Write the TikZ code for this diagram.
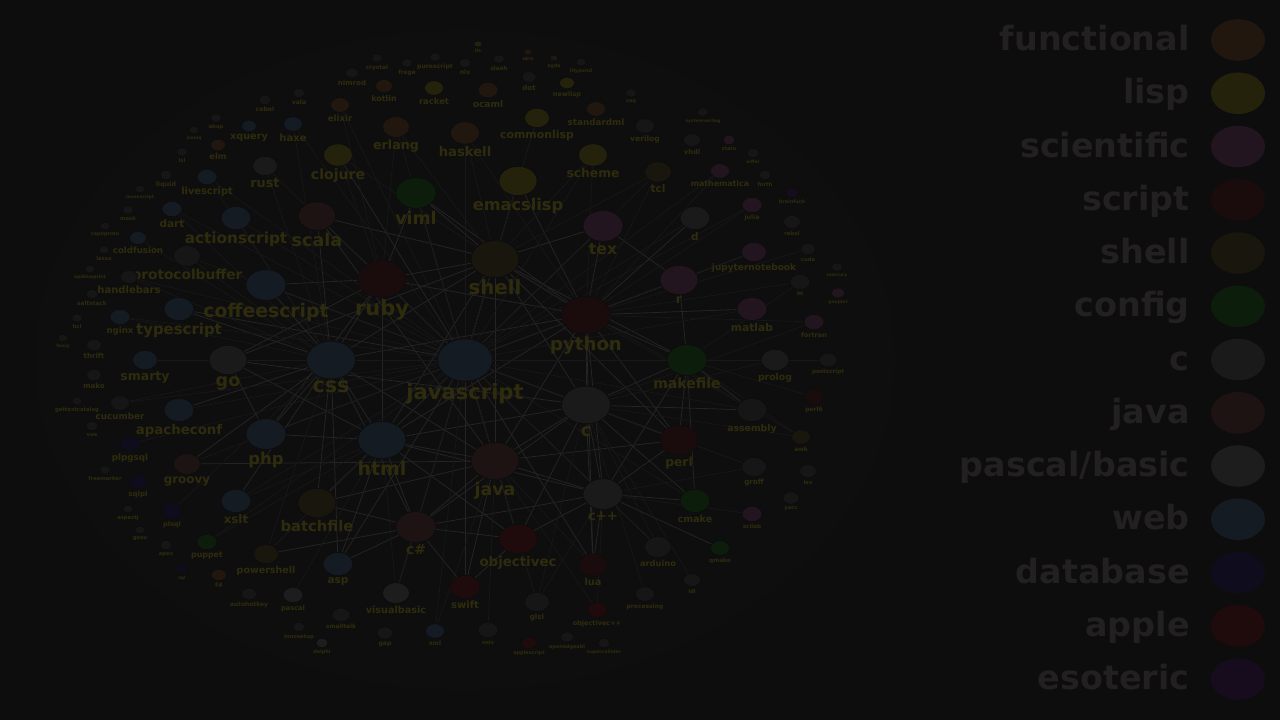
\documentclass[tikz,border=0pt]{standalone}
\usepackage{fontspec}
\setmainfont{DejaVu Sans}
\usetikzlibrary{shapes.geometric}
\definecolor{bgc}{HTML}{0E0D0E}
\definecolor{haloc}{HTML}{0F0E0F}
\definecolor{edgec}{HTML}{252425}
\definecolor{edgefc}{HTML}{191819}
\definecolor{lblc}{HTML}{2E2C0C}
\definecolor{legc}{HTML}{222021}
\definecolor{funcc}{HTML}{21170F}
\definecolor{lispc}{HTML}{25220C}
\definecolor{scic}{HTML}{22151F}
\definecolor{scriptc}{HTML}{1A0C0C}
\definecolor{shellc}{HTML}{19160D}
\definecolor{confc}{HTML}{0C1D0C}
\definecolor{cc}{HTML}{1B1A1B}
\definecolor{javac}{HTML}{1D1313}
\definecolor{pasc}{HTML}{1C1D1C}
\definecolor{webc}{HTML}{141B22}
\definecolor{dbc}{HTML}{0E0C1D}
\definecolor{applec}{HTML}{1F0B0C}
\definecolor{esoc}{HTML}{170C1D}
\definecolor{othc}{HTML}{151615}
\pgfdeclarelayer{bglayer}
\pgfdeclarelayer{edgelayer}
\pgfsetlayers{bglayer,edgelayer,main}

\begin{document}
\begin{tikzpicture}[
  x=0.02cm, y=-0.02cm,
  lang/.style={ellipse, draw=bgc, line width=0.4pt, inner sep=0pt,
               minimum width=#1*0.02cm, minimum height=#1*0.0154cm},
  lbl/.style ={text=lblc, inner sep=1pt, font=\bfseries\fontsize{#1}{#1}\selectfont},
  funcn/.style={fill=funcc},   lispn/.style={fill=lispc},  scin/.style={fill=scic},
  scriptn/.style={fill=scriptc}, shelln/.style={fill=shellc}, confn/.style={fill=confc},
  cn/.style={fill=cc},         javan/.style={fill=javac},  pasn/.style={fill=pasc},
  webn/.style={fill=webc},     dbn/.style={fill=dbc},      applen/.style={fill=applec},
  eson/.style={fill=esoc},     othn/.style={fill=othc},
  edge/.style ={edgec, line width=0.45pt},
  edgef/.style={edgefc, line width=0.35pt},
  legtxt/.style={text=legc, anchor=base east, inner sep=0pt,
                 font=\bfseries\fontsize{19}{19}\selectfont},
  legdot/.style={lang=54, draw=none}
]
\useasboundingbox (0,0) rectangle (1280,720);
\begin{pgfonlayer}{bglayer}
  \fill[bgc] (0,0) rectangle (1280,720);
  \fill[haloc] (465,360) ellipse [x radius=430, y radius=330];
\end{pgfonlayer}

% =============== hubs ===============
\node[lang=55, webn,    label={[lbl=12]below:javascript}] (js)   at (465,360) {};
\node[lang=49, webn,    label={[lbl=11.8]below:css}]      (css)  at (331,360) {};
\node[lang=48, webn,    label={[lbl=10.8]below:html}]     (html) at (382,440) {};
\node[lang=48, javan,   label={[lbl=9.9]below:java}]      (java) at (495,461) {};
\node[lang=49, cn,      label={[lbl=10]below:c}]          (c)    at (586,405) {};
\node[lang=49, scriptn, label={[lbl=10.3]below:python}]   (py)   at (586,315) {};
\node[lang=48, shelln,  label={[lbl=11.2]below:shell}]    (sh)   at (495,259) {};
\node[lang=48, scriptn, label={[lbl=11.9]below:ruby}]     (rb)   at (382,279) {};

% =============== second ring ===============
\node[lang=40, webn,    label={[lbl=10.7]below:coffeescript}] (coffee) at (266,285) {};
\node[lang=40, confn,   label={[lbl=8]below:makefile}]    (make)  at (687,360) {};
\node[lang=40, cn,      label={[lbl=7.5]below:c++}]       (cpp)   at (603,494) {};
\node[lang=40, javan,   label={[lbl=7.9]below:c\#}]       (cs)    at (416,527) {};
\node[lang=38, applen,  label={[lbl=7.6]below:objectivec}] (objc) at (518,539) {};
\node[lang=40, webn,    label={[lbl=9.3]below:php}]       (php)   at (266,434) {};
\node[lang=38, cn,      label={[lbl=10]below:go}]         (go)    at (228,360) {};
\node[lang=40, scin,    label={[lbl=8.9]below:tex}]       (tex)   at (603,226) {};
\node[lang=38, scin,    label={[lbl=7]below:r}]           (r)     at (679,280) {};
\node[lang=38, lispn,   label={[lbl=9.2]below:emacslisp}] (elisp) at (518,181) {};
\node[lang=40, confn,   label={[lbl=9.9]below:viml}]      (viml)  at (416,193) {};
\node[lang=37, javan,   label={[lbl=10]below:scala}]      (scala) at (317,216) {};
\node[lang=38, shelln,  label={[lbl=8.4]below:batchfile}] (bat)   at (317,503) {};
\node[lang=38, scriptn, label={[lbl=7]below:perl}]        (perl)  at (679,440) {};

% =============== third ring ===============
\node[lang=29, lispn,   label={[lbl=8]below:clojure}]      (clj)     at (338,155) {};
\node[lang=27, funcn,   label={[lbl=7.2]below:erlang}]     (erl)     at (396,127) {};
\node[lang=29, funcn,   label={[lbl=7.5]below:haskell}]    (hs)      at (465,133) {};
\node[lang=25, lispn,   label={[lbl=6.2]below:commonlisp}] (clisp)   at (537,118) {};
\node[lang=29, lispn,   label={[lbl=7]below:scheme}]       (scm)     at (593,155) {};
\node[lang=27, shelln,  label={[lbl=6]below:tcl}]          (tcl)     at (658,172) {};
\node[lang=30, cn,      label={[lbl=6]below:d}]            (d)       at (695,218) {};
\node[lang=25, cn,      label={[lbl=7.3]below:rust}]       (rust)    at (265,166) {};
\node[lang=30, webn,    label={[lbl=8.7]below:actionscript}] (as)    at (236,218) {};
\node[lang=20, webn,    label={[lbl=6]below:dart}]         (dart)    at (172,209) {};
\node[lang=20, webn,    label={[lbl=5.6]below:livescript}] (live)    at (207,177) {};
\node[lang=30, webn,    label={[lbl=8.5]below:typescript}] (ts)      at (179,309) {};
\node[lang=25, webn,    label={[lbl=7.1]below:smarty}]     (smarty)  at (145,360) {};
\node[lang=30, webn,    label={[lbl=7.6]below:apacheconf}] (apache)  at (179,410) {};
\node[lang=27, javan,   label={[lbl=6.8]below:groovy}]     (groovy)  at (187,464) {};
\node[lang=30, webn,    label={[lbl=6.7]below:xslt}]       (xslt)    at (236,501) {};
\node[lang=25, shelln,  label={[lbl=5.4]below:powershell}] (pshell)  at (266,554) {};
\node[lang=30, webn,    label={[lbl=6]below:asp}]          (asp)     at (338,564) {};
\node[lang=27, pasn,    label={[lbl=5.5]below:visualbasic}] (vb)     at (396,593) {};
\node[lang=30, applen,  label={[lbl=5.7]below:swift}]      (swift)   at (465,587) {};
\node[lang=29, scriptn, label={[lbl=5.5]below:lua}]        (lua)     at (593,565) {};
\node[lang=30, confn,   label={[lbl=5.4]below:cmake}]      (cmake)   at (695,501) {};
\node[lang=30, othn,    label={[lbl=5.3]below:assembly}]   (asm)     at (752,410) {};
\node[lang=30, scin,    label={[lbl=6.1]below:matlab}]     (matlab)  at (752,309) {};
\node[lang=25, scin,    label={[lbl=5.1]below:jupyternotebook}] (jupyter) at (754,252) {};
\node[lang=28, cn,      label={[lbl=5.3]below:prolog}]     (prolog)  at (775,360) {};
\node[lang=19, scin,    label={[lbl=4.5]below:mathematica}] (mma)    at (720,171) {};
\node[lang=20, scin,    label={[lbl=3.5]below:julia}]      (julia)   at (752,205) {};
\node[lang=27, othn,    label={[lbl=7.8]below:protocolbuffer}] (proto) at (187,256) {};
\node[lang=25, othn,    label={[lbl=4.1]below:groff}]      (groff)   at (754,467) {};
\node[lang=27, othn,    label={[lbl=4.7]below:arduino}]    (arduino) at (658,547) {};
\node[lang=20, scin,    label={[lbl=3.2]below:scilab}]     (scilab)  at (752,514) {};
\node[lang=19, confn,   label={[lbl=3.3]below:qmake}]      (qmake)   at (720,548) {};
\node[lang=25, othn,    label={[lbl=4.1]below:glsl}]       (glsl)    at (537,602) {};
\node[lang=20, applen,  label={[lbl=3.7]below:objectivec++}] (objcpp) at (597,610) {};
\node[lang=19, othn,    label={[lbl=3.4]below:processing}] (procg)   at (645,594) {};
\node[lang=20, confn,   label={[lbl=4.5]below:puppet}]     (puppet)  at (207,542) {};
\node[lang=20, dbn,     label={[lbl=3.7]below:plsql}]      (plsql)   at (172,511) {};
\node[lang=20, pasn,    label={[lbl=3.8]below:pascal}]     (pascal)  at (293,595) {};

% =============== outer ring, top ===============
\node[lang=19, funcn,   label={[lbl=4.9]below:elixir}]     (elixir)  at (340,105) {};
\node[lang=17, funcn,   label={[lbl=4.5]below:kotlin}]     (kotlin)  at (384,86) {};
\node[lang=19, lispn,   label={[lbl=4.8]below:racket}]     (racket)  at (434,88) {};
\node[lang=20, funcn,   label={[lbl=5.2]below:ocaml}]      (ocaml)   at (488,90) {};
\node[lang=19, funcn,   label={[lbl=5]below:standardml}]   (sml)     at (596,109) {};
\node[lang=15, lispn,   label={[lbl=3.7]below:newlisp}]    (newlisp) at (567,83) {};
\node[lang=14, othn,    label={[lbl=4]below:dot}]          (dot)     at (529,77) {};
\node[lang=19, webn,    label={[lbl=5.7]below:haxe}]       (haxe)    at (293,124) {};
\node[lang=15, webn,    label={[lbl=5.5]below:xquery}]     (xquery)  at (249,126) {};
\node[lang=15, funcn,   label={[lbl=4.7]below:elm}]        (elm)     at (218,145) {};
\node[lang=19, othn,    label={[lbl=4.3]below:verilog}]    (verilog) at (645,126) {};
\node[lang=17, othn,    label={[lbl=3.8]below:vhdl}]       (vhdl)    at (692,140) {};
\node[lang=11, othn,    label={[lbl=2.8]below:coq}]        (coq)     at (631,93) {};
\node[lang=11, othn,    label={[lbl=2.5]below:systemverilog}] (sysv) at (703,112) {};
\node[lang=12, othn,    label={[lbl=3.5]below:cobol}]      (cobol)   at (265,100) {};
\node[lang=12, othn,    label={[lbl=3.5]below:vala}]       (vala)    at (299,93) {};
\node[lang=13, othn,    label={[lbl=4]below:nimrod}]       (nimrod)  at (352,73) {};
\node[lang=11, othn,    label={[lbl=3.3]below:crystal}]    (crystal) at (377,58) {};
\node[lang=11, othn,    label={[lbl=3.3]below:frege}]      (frege)   at (407,63) {};
\node[lang=11, othn,    label={[lbl=3.5]below:purescript}] (purs)    at (435,57) {};
\node[lang=12, othn,    label={[lbl=3.5]below:nix}]        (nix)     at (465,63) {};
\node[lang=11, othn,    label={[lbl=3.3]below:slash}]      (slash)   at (499,59) {};
\node[lang=8,  lispn,   label={[lbl=2.5]below:lfe}]        (lfe)     at (478,44) {};
\node[lang=8,  funcn,   label={[lbl=2.5]below:idris}]      (idris)   at (528,52) {};
\node[lang=8,  funcn,   label={[lbl=2.7]below:agda}]       (agda)    at (554,58) {};
\node[lang=10, othn,    label={[lbl=2.8]below:lilypond}]   (lily)    at (581,62) {};
\node[lang=11, othn,    label={[lbl=3]below:lsl}]          (lsl)     at (182,152) {};
\node[lang=11, othn,    label={[lbl=3]below:abap}]         (abap)    at (216,118) {};
\node[lang=10, othn,    label={[lbl=2.5]below:jsoniq}]     (jsoniq)  at (194,130) {};

% =============== outer ring, left ===============
\node[lang=17, othn,    label={[lbl=5.7]below:handlebars}] (hbs)     at (129,277) {};
\node[lang=20, webn,    label={[lbl=4.9]below:nginx}]      (nginx)   at (120,317) {};
\node[lang=17, webn,    label={[lbl=4.9]below:coldfusion}] (cfm)     at (138,238) {};
\node[lang=19, othn,    label={[lbl=5]below:cucumber}]     (cucumber) at (120,403) {};
\node[lang=15, othn,    label={[lbl=4]below:thrift}]       (thrift)  at (94,345) {};
\node[lang=15, othn,    label={[lbl=4]below:mako}]         (mako)    at (94,375) {};
\node[lang=19, dbn,     label={[lbl=5]below:plpgsql}]      (plpgsql) at (130,444) {};
\node[lang=17, dbn,     label={[lbl=4]below:sqlpl}]        (sqlpl)   at (138,482) {};
\node[lang=15, funcn,   label={[lbl=3.5]below:f\#}]        (fsharp)  at (219,575) {};
\node[lang=11, dbn,     label={[lbl=2.5]below:sql}]        (sql)     at (182,569) {};
\node[lang=12, othn,    label={[lbl=3]below:apex}]         (apex)    at (166,545) {};
\node[lang=11, othn,    label={[lbl=3]below:mask}]         (mask)    at (128,210) {};
\node[lang=12, othn,    label={[lbl=3.6]below:liquid}]     (liquid)  at (166,175) {};
\node[lang=10, othn,    label={[lbl=2.5]below:moonscript}] (moon)    at (140,189) {};
\node[lang=10, othn,    label={[lbl=3]below:lasso}]        (lasso)   at (104,250) {};
\node[lang=10, othn,    label={[lbl=2.8]below:capnproto}]  (capn)    at (105,226) {};
\node[lang=10, othn,    label={[lbl=2.6]below:apiblueprint}] (apib)  at (90,269) {};
\node[lang=12, othn,    label={[lbl=3.3]below:saltstack}]  (salt)    at (92,294) {};
\node[lang=11, othn,    label={[lbl=3]below:hcl}]          (hcl)     at (77,318) {};
\node[lang=10, othn,    label={[lbl=2.5]below:fancy}]      (fancy)   at (63,338) {};
\node[lang=12, othn,    label={[lbl=3]below:vue}]          (vue)     at (92,426) {};
\node[lang=10, othn,    label={[lbl=3]below:gettextcatalog}] (gettext) at (77,401) {};
\node[lang=11, othn,    label={[lbl=3]below:freemarker}]   (fmk)     at (105,470) {};
\node[lang=10, othn,    label={[lbl=3]below:aspectj}]      (aspectj) at (128,509) {};
\node[lang=10, othn,    label={[lbl=3]below:gosu}]         (gosu)    at (140,530) {};

% =============== outer ring, bottom ===============
\node[lang=15, othn,    label={[lbl=3.4]below:autohotkey}] (ahk)     at (249,594) {};
\node[lang=18, othn,    label={[lbl=3.3]below:smalltalk}]  (st)      at (341,615) {};
\node[lang=16, othn,    label={[lbl=3.5]below:gap}]        (gap)     at (385,633) {};
\node[lang=19, webn,    label={[lbl=3.5]below:xml}]        (xml)     at (435,631) {};
\node[lang=20, othn,    label={[lbl=3]below:nsis}]         (nsis)    at (488,630) {};
\node[lang=12, othn,    label={[lbl=3]below:innosetup}]    (inno)    at (299,627) {};
\node[lang=12, pasn,    label={[lbl=2.8]below:delphi}]     (delphi)  at (322,643) {};
\node[lang=15, applen,  label={[lbl=2.8]below:applescript}] (ascr)   at (529,643) {};
\node[lang=13, othn,    label={[lbl=2.8]below:openedgeabl}] (abl)    at (567,637) {};
\node[lang=12, othn,    label={[lbl=2.6]below:supercollider}] (sc)   at (604,643) {};
\node[lang=17, othn,    label={[lbl=3]below:idl}]          (idl)     at (692,580) {};

% =============== outer ring, right ===============
\node[lang=17, othn,    label={[lbl=3]below:lex}]          (lex)     at (808,471) {};
\node[lang=16, othn,    label={[lbl=3]below:yacc}]         (yacc)    at (791,498) {};
\node[lang=19, shelln,  label={[lbl=3.4]below:awk}]        (awk)     at (801,437) {};
\node[lang=19, scriptn, label={[lbl=3.4]below:perl6}]      (perl6)   at (814,397) {};
\node[lang=18, othn,    label={[lbl=3.2]below:postscript}] (ps)      at (828,360) {};
\node[lang=20, scin,    label={[lbl=3.7]below:fortran}]    (fortran) at (814,322) {};
\node[lang=20, othn,    label={[lbl=3.5]below:m}]          (m)       at (800,282) {};
\node[lang=15, othn,    label={[lbl=3]below:cuda}]         (cuda)    at (808,249) {};
\node[lang=11, othn,    label={[lbl=2.5]below:mercury}]    (mercury) at (837,267) {};
\node[lang=13, scin,    label={[lbl=2.5]below:gnuplot}]    (gnuplot) at (838,293) {};
\node[lang=17, othn,    label={[lbl=3]below:rebol}]        (rebol)   at (792,222) {};
\node[lang=12, othn,    label={[lbl=3]below:forth}]        (forth)   at (765,175) {};
\node[lang=12, eson,    label={[lbl=2.8]below:brainfuck}]  (bf)      at (792,193) {};
\node[lang=12, othn,    label={[lbl=2.5]below:eiffel}]     (eiffel)  at (753,153) {};
\node[lang=12, scin,    label={[lbl=2.8]below:stata}]      (stata)   at (729,140) {};

% =============== edges ===============
\begin{pgfonlayer}{edgelayer}
\foreach \a/\b in {js/css, js/html, js/java, js/c, js/py, js/sh, js/rb, js/coffee, js/make,
    js/tex, js/viml, js/elisp, js/r, js/cpp, js/cs, js/objc, js/php, js/perl, js/go, js/bat,
    js/scala, js/ts, js/lua, js/swift, js/asp, js/clj,
    css/html, css/rb, css/php, css/coffee, css/go, css/sh, css/java, css/py, css/ts,
    css/apache, css/bat, css/cs, css/scala, css/xslt, css/groovy, css/asp,
    py/sh, py/c, py/r, py/tex, py/make, py/cpp, py/java, py/rb, py/perl, py/matlab,
    py/jupyter, py/html, py/lua, py/elisp, py/viml, py/d,
    c/cpp, c/java, c/make, c/sh, c/perl, c/lua, c/cmake, c/objc, c/cs, c/asm, c/html, c/go,
    java/cpp, java/cs, java/objc, java/html, java/sh, java/scala, java/bat, java/swift,
    java/perl, java/groovy,
    sh/rb, sh/viml, sh/elisp, sh/tex, sh/make, sh/perl, sh/html, sh/go, sh/scala,
    html/php, html/rb, html/cs, html/bat, html/objc, html/cpp, html/asp, html/go,
    rb/coffee, rb/viml, rb/scala, rb/go, rb/php,
    cpp/cmake, cpp/objc, cpp/cs, cpp/lua, cpp/perl, cpp/make, cpp/arduino, cpp/qmake,
    cs/bat, cs/objc, cs/asp, cs/vb, cs/swift, cs/pshell,
    make/perl, make/r, make/cmake, make/prolog, make/asm, tex/r, objc/swift, php/go}
  \draw[edge] (\a) -- (\b);
\foreach \a/\b in {js/erl, js/hs, js/scm, js/tcl, js/d, js/rust, js/as, js/dart, js/live,
    js/smarty, js/apache, js/groovy, js/xslt, js/pshell, js/vb, js/cmake, js/asm, js/matlab,
    js/jupyter, js/prolog, js/proto, js/groff, js/arduino, js/glsl, js/puppet, js/elixir,
    js/haxe, js/clisp, js/mma, js/julia, js/cucumber, js/nginx, js/hbs, js/xml, js/plpgsql,
    css/as, css/rust, css/dart, css/live, css/nginx, css/hbs, css/cfm, css/proto,
    css/plsql, css/pshell, css/haxe, css/smarty, css/cucumber,
    py/tcl, py/mma, py/julia, py/fortran, py/m, py/cuda, py/scm, py/hs, py/asm,
    c/glsl, c/arduino, c/procg, c/idl, c/groff, c/prolog, c/fortran, c/awk,
    sh/tcl, sh/awk, sh/clj, sh/erl, sh/hs, sh/clisp, sh/scm,
    java/glsl, java/objcpp, java/lua, java/xml, java/nsis,
    html/xslt, html/pshell, html/vb, html/pascal, html/puppet, rb/clj, rb/erl, rb/elixir,
    cpp/glsl, cpp/objcpp, cpp/scilab, cpp/groff, make/m, make/awk, make/perl6, make/ps}
  \draw[edgef] (\a) -- (\b);
\end{pgfonlayer}

% =============== legend ===============
\foreach \i/\t/\col in {0/functional/funcc, 1/lisp/lispc, 2/scientific/scic, 3/script/scriptc,
    4/shell/shellc, 5/config/confc, 6/c/cc, 7/java/javac, 8/pascal\slash basic/pasc,
    9/web/webc, 10/database/dbc, 11/apple/applec, 12/esoteric/esoc} {
  \node[legtxt] (legtxt\i) at (1190,{50.5+53.25*\i}) {\t};
  \node[legdot, fill=\col] (legdot\i) at (1238,{40+53.25*\i}) {};
}
\end{tikzpicture}
\end{document}
